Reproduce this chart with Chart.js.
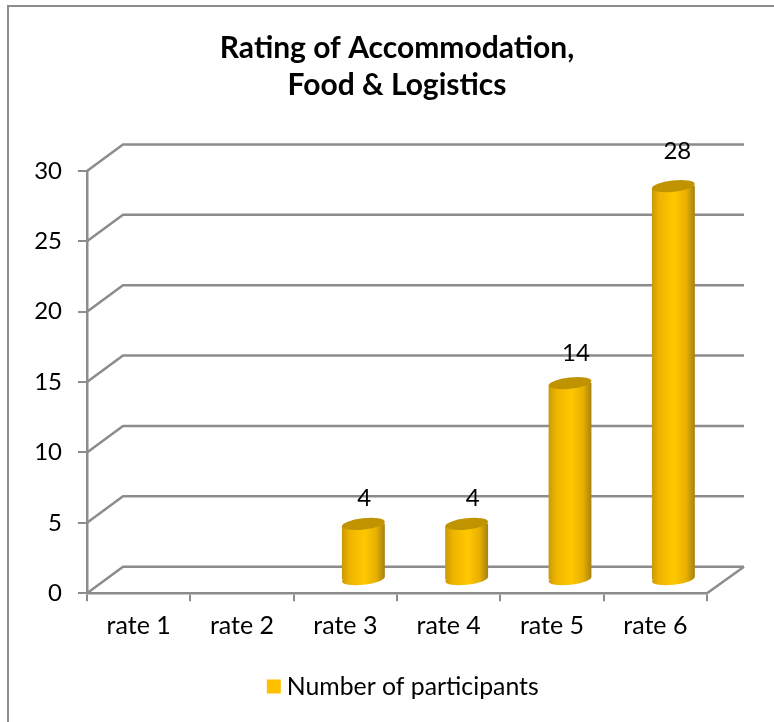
<!DOCTYPE html>
<html>
<head>
<meta charset="utf-8">
<style>html,body{margin:0;padding:0;background:#fff}canvas{display:block}</style>
<script src="https://cdn.jsdelivr.net/npm/chart.js@4"></script>
</head>
<body>
<canvas id="c" width="774" height="722"></canvas>
<script>
const categories = ['rate 1','rate 2','rate 3','rate 4','rate 5','rate 6'];
const participants = [null,null,4,4,14,28];
const yTicks = [0,5,10,15,20,25,30];
const seriesName = 'Number of participants';
const titleLines = ['Rating of Accommodation,','Food & Logistics'];

const FONT = 'Lato, Carlito, Calibri, sans-serif';
const GRID = '#8c8c8c';
const DEPTH = {x:36, y:-26.5};      // 3D wall offset
const BAR = {x:18, y:-13, w:43, ry:5.6, tilt:-0.11};
const LABEL_SHIFT = [0,0,1,6,6,4];

function barGradient(c, cx){
  const g = c.createLinearGradient(cx-BAR.w/2,0,cx+BAR.w/2,0);
  g.addColorStop(0,'#c99a05');
  g.addColorStop(0.18,'#eeb400');
  g.addColorStop(0.52,'#ffc800');
  g.addColorStop(0.8,'#e8b000');
  g.addColorStop(1,'#a58112');
  return g;
}
const frame = {
  id:'frame',
  afterLayout(chart){
    chart.legend.left += 9; chart.legend.right += 9;
  },
  beforeDraw(chart){
    const c = chart.ctx;
    c.save();
    c.fillStyle='#fff'; c.fillRect(0,0,chart.width,chart.height);
    c.strokeStyle=GRID; c.lineWidth=2;
    c.beginPath(); c.moveTo(8,722); c.lineTo(8,6); c.lineTo(774,6); c.stroke();
    c.restore();
  }
};
const walls = {
  id:'walls',
  beforeDatasetsDraw(chart){
    const c = chart.ctx, y = chart.scales.y, a = chart.chartArea;
    c.save();
    c.strokeStyle=GRID; c.lineWidth=2.5; c.lineJoin='miter';
    y.ticks.forEach(t=>{
      const py = y.getPixelForValue(t.value);
      c.beginPath();
      c.moveTo(a.left,py);
      c.lineTo(a.left+DEPTH.x,py+DEPTH.y);
      c.lineTo(a.right+DEPTH.x+1,py+DEPTH.y);
      c.stroke();
    });
    const p0 = y.getPixelForValue(0);
    c.beginPath();
    c.moveTo(a.right,p0);
    c.lineTo(a.right+DEPTH.x+1,p0+DEPTH.y);
    c.stroke();
    c.restore();
  }
};
const cylinders = {
  id:'cylinders',
  beforeDatasetDraw(chart,args){
    const c = chart.ctx, meta = chart.getDatasetMeta(args.index);
    c.save();
    c.translate(BAR.x,BAR.y);
    // trim the rectangular bar to the tilted cylinder outline
    c.beginPath();
    const dy = Math.sin(-BAR.tilt)*BAR.w/2;
    meta.data.forEach((el,i)=>{
      if(participants[i]===null) return;
      c.moveTo(el.x-BAR.w/2,el.y+dy);
      c.lineTo(el.x+BAR.w/2,el.y-dy);
      c.lineTo(el.x+BAR.w/2,el.base-dy);
      c.lineTo(el.x-BAR.w/2,el.base+dy);
      c.closePath();
    });
    c.clip();
  },
  afterDatasetDraw(chart,args){
    const c = chart.ctx, meta = chart.getDatasetMeta(args.index);
    c.restore();
    c.save();
    c.translate(BAR.x,BAR.y);
    meta.data.forEach((el,i)=>{
      if(participants[i]===null) return;
      c.fillStyle = barGradient(c,el.x);
      c.beginPath();
      c.ellipse(el.x,el.base,BAR.w/2,BAR.ry,BAR.tilt,0,Math.PI*2);
      c.fill();
      c.fillStyle = '#c09300';
      c.beginPath();
      c.ellipse(el.x,el.y,BAR.w/2,BAR.ry,BAR.tilt,0,Math.PI*2);
      c.fill();
    });
    c.restore();
    // value labels
    c.save();
    c.font = '24px '+FONT;
    c.fillStyle='#000';
    c.textAlign='center'; c.textBaseline='middle';
    meta.data.forEach((el,i)=>{
      if(participants[i]===null) return;
      c.fillText(String(participants[i]),el.x+BAR.x+LABEL_SHIFT[i],el.y+BAR.y-(24+participants[i]*0.4));
    });
    c.restore();
  }
};

new Chart(document.getElementById('c'),{
  type:'bar',
  data:{
    labels:categories,
    datasets:[{
      label:seriesName,
      data:participants,
      barThickness:43,
      borderWidth:0,
      backgroundColor(ctx){
        if(ctx.dataIndex===undefined) return '#ffc000';
        const x = ctx.chart.scales.x;
        return barGradient(ctx.chart.ctx, x.getPixelForValue(ctx.dataIndex));
      }
    }]
  },
  plugins:[frame,walls,cylinders],
  options:{
    responsive:false,
    animation:false,
    devicePixelRatio:1,
    layout:{padding:{left:0,right:67,top:0,bottom:13}},
    plugins:{
      tooltip:{enabled:false},
      title:{
        display:true,
        text:titleLines,
        fullSize:false,
        color:'#000',
        font:{family:FONT,size:30,weight:'bold',lineHeight:1.233},
        padding:{top:30,bottom:67}
      },
      legend:{
        position:'bottom',
        fullSize:false,
        labels:{
          color:'#000',
          font:{family:FONT,size:24.8},
          usePointStyle:true,
          pointStyle:'rect',
          boxWidth:1,boxHeight:14,
          padding:22,
          generateLabels(){
            return [{text:seriesName,fillStyle:'#ffc000',strokeStyle:'#ffc000',lineWidth:0,pointStyle:'rect',datasetIndex:0}];
          }
        }
      }
    },
    scales:{
      x:{
        afterFit(s){ s.height=59; },
        grid:{drawOnChartArea:false,color:GRID,lineWidth:2,tickLength:8,offset:true},
        border:{color:GRID,width:2.5},
        ticks:{color:'#000',font:{family:FONT,size:25},padding:10,maxRotation:0}
      },
      y:{
        min:0,max:30,
        afterFit(s){ s.width=87; },
        afterBuildTicks(s){ s.ticks = yTicks.map(v=>({value:v})); },
        grid:{drawOnChartArea:false,color:GRID,lineWidth:2,tickLength:9},
        border:{color:GRID,width:2.5},
        ticks:{color:'#000',font:{family:FONT,size:24},padding:16}
      }
    }
  }
});
</script>
</body>
</html>
